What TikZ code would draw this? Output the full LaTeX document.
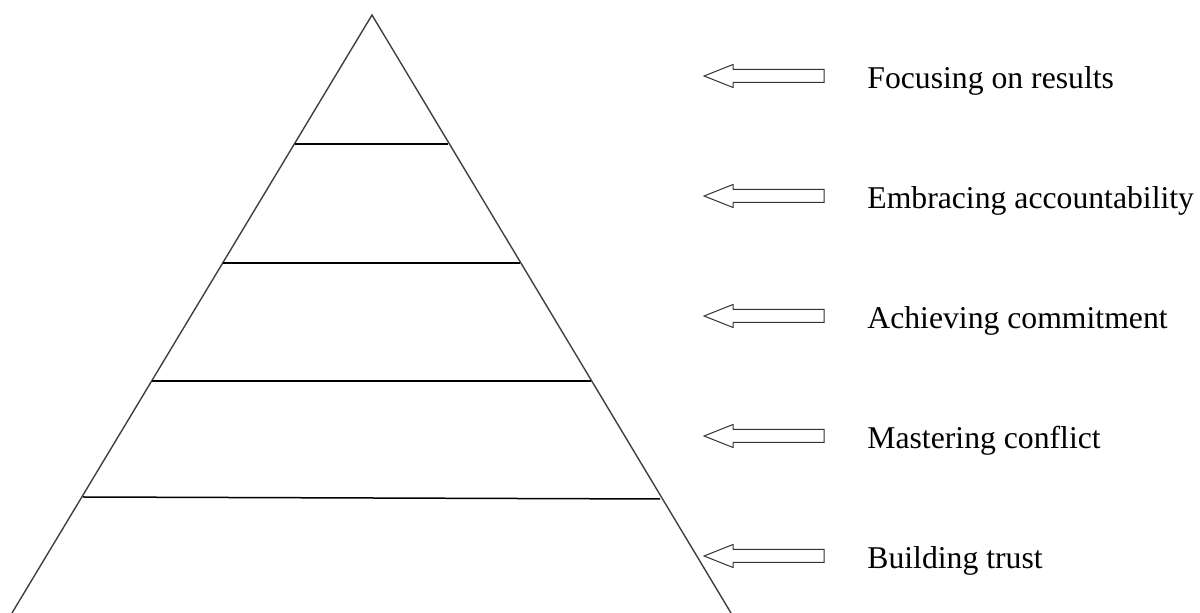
\documentclass[tikz,border=0pt]{standalone}
\usepackage{fontspec}
\setmainfont{Liberation Serif}
\begin{document}
\begin{tikzpicture}[x=0.5pt,y=-0.5pt,
  pyr/.style={draw=black!75,line width=0.7pt},
  level/.style={draw=black,line width=0.75pt},
  arr/.style={draw=black!80,line width=0.5pt,fill=white},
  lbl/.style={anchor=base west,inner sep=0pt,font=\fontsize{15.85pt}{18pt}\selectfont}]
\useasboundingbox (0,0) rectangle (1200,613);
\coordinate (apex) at (372,15);
\coordinate (bl) at (12,613);
\coordinate (br) at (731,613);
\draw[pyr] (bl) -- (apex) -- (br);
\draw[level] (295,144) -- (448,144);
\draw[level] (223,263) -- (520,263);
\draw[level] (152,381) -- (591,381);
\draw[level] (83,497) -- (660,499);
\foreach \i/\t in {0/Focusing on results,1/Embracing accountability,2/Achieving commitment,3/Mastering conflict,4/Building trust}{
  \pgfmathsetmacro{\yc}{76+120*\i}
  \draw[arr] (704,\yc) -- ++(29,-11.5) -- ++(0,5) -- ++(91,0) -- ++(0,13) -- ++(-91,0) -- ++(0,5) -- cycle;
  \node[lbl] (t\i) at (867,\yc+13) {\t};
}
\end{tikzpicture}
\end{document}
